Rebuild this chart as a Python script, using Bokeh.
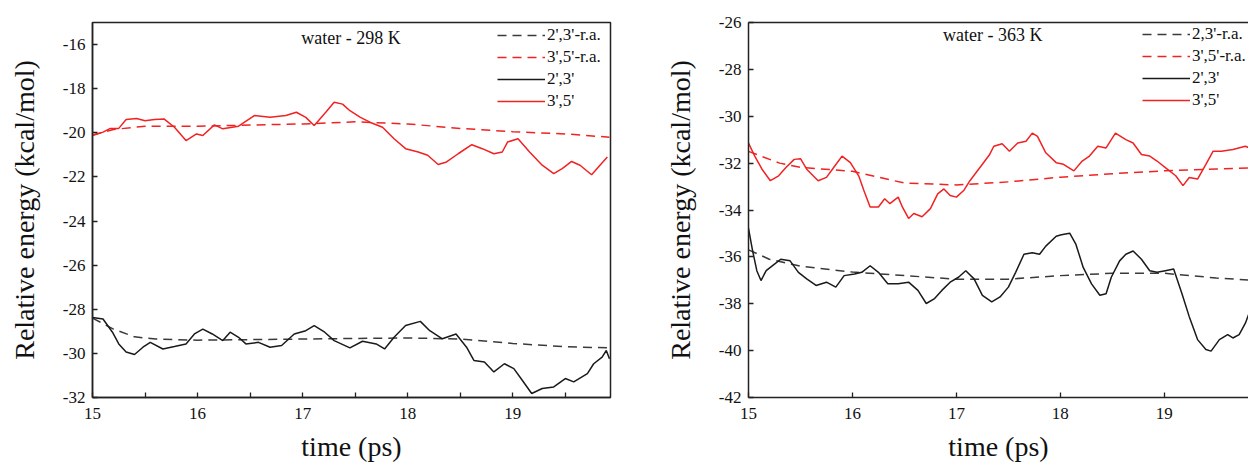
from bokeh.plotting import figure
from bokeh.models import FixedTicker, Label, Legend, LegendItem, LinearAxis, Range1d
from bokeh.layouts import row
from bokeh.embed import file_html
from bokeh.resources import INLINE

# ---------------- data: water 298 K ----------------
t298_35 = [15.0, 15.1, 15.17, 15.25, 15.32, 15.42, 15.5, 15.59, 15.68, 15.78, 15.89, 15.99, 16.05,
           16.16, 16.24, 16.39, 16.54, 16.69, 16.84, 16.94, 17.03, 17.11, 17.15, 17.22, 17.3, 17.38,
           17.45, 17.55, 17.64, 17.76, 17.87, 17.98, 18.1, 18.19, 18.29, 18.37, 18.48, 18.61, 18.71,
           18.82, 18.9, 18.95, 19.05, 19.16, 19.28, 19.39, 19.47, 19.56, 19.64, 19.75, 19.83, 19.9]
e298_35 = [-20.12, -19.97, -19.8, -19.8, -19.4, -19.35, -19.45, -19.4, -19.37, -19.75, -20.35, -20.05,
           -20.12, -19.64, -19.82, -19.7, -19.22, -19.3, -19.22, -19.07, -19.3, -19.67, -19.45, -19.07,
           -18.62, -18.7, -19.0, -19.3, -19.52, -19.75, -20.27, -20.72, -20.87, -21.02, -21.44, -21.32,
           -20.95, -20.54, -20.72, -20.95, -20.87, -20.42, -20.27, -20.87, -21.47, -21.85, -21.62,
           -21.3, -21.47, -21.9, -21.47, -21.1]
t298_35ra = [15.0, 15.2, 15.5, 16.0, 16.5, 17.0, 17.5, 18.0, 18.5, 19.0, 19.5, 19.92]
e298_35ra = [-20.1, -19.85, -19.7, -19.7, -19.65, -19.6, -19.5, -19.6, -19.8, -19.95, -20.05, -20.2]

t298_23 = [15.0, 15.1, 15.19, 15.25, 15.32, 15.4, 15.48, 15.55, 15.67, 15.78, 15.89, 15.97, 16.05,
           16.14, 16.24, 16.31, 16.39, 16.46, 16.58, 16.69, 16.8, 16.92, 17.03, 17.11, 17.21, 17.3,
           17.45, 17.57, 17.7, 17.78, 17.87, 17.98, 18.12, 18.21, 18.33, 18.46, 18.56, 18.63, 18.73,
           18.82, 18.92, 19.01, 19.09, 19.18, 19.28, 19.39, 19.5, 19.58, 19.71, 19.77, 19.85, 19.89, 19.92]
e298_23 = [-28.37, -28.44, -29.04, -29.57, -29.94, -30.05, -29.72, -29.5, -29.8, -29.69, -29.57, -29.12,
           -28.9, -29.12, -29.42, -29.04, -29.27, -29.57, -29.5, -29.72, -29.64, -29.12, -28.97, -28.74,
           -29.04, -29.42, -29.75, -29.45, -29.57, -29.8, -29.27, -28.74, -28.55, -28.97, -29.34, -29.12,
           -29.72, -30.32, -30.39, -30.84, -30.47, -30.69, -31.22, -31.82, -31.59, -31.52, -31.14,
           -31.29, -30.92, -30.47, -30.17, -29.87, -30.24]
t298_23ra = [15.0, 15.2, 15.4, 15.6, 16.0, 17.0, 18.0, 18.5, 19.0, 19.5, 19.92]
e298_23ra = [-28.4, -28.9, -29.25, -29.35, -29.4, -29.35, -29.3, -29.35, -29.55, -29.7, -29.75]

# ---------------- data: water 363 K ----------------
t363_35 = [15.0, 15.06, 15.13, 15.21, 15.29, 15.36, 15.44, 15.5, 15.56, 15.67, 15.75, 15.83, 15.9,
           15.98, 16.06, 16.11, 16.17, 16.25, 16.31, 16.36, 16.44, 16.48, 16.54, 16.59, 16.67, 16.75,
           16.82, 16.88, 16.94, 17.0, 17.07, 17.13, 17.19, 17.25, 17.32, 17.36, 17.44, 17.51, 17.59,
           17.67, 17.73, 17.78, 17.86, 17.96, 18.03, 18.13, 18.21, 18.28, 18.36, 18.44, 18.53, 18.63,
           18.7, 18.78, 18.86, 18.93, 19.01, 19.11, 19.18, 19.24, 19.32, 19.4, 19.47, 19.55, 19.66,
           19.78, 19.85]
e363_35 = [-31.14, -31.7, -32.26, -32.75, -32.54, -32.19, -31.84, -31.81, -32.26, -32.75, -32.61,
           -32.12, -31.7, -31.98, -32.54, -33.17, -33.87, -33.87, -33.52, -33.73, -33.45, -33.87,
           -34.36, -34.15, -34.29, -33.94, -33.31, -33.1, -33.38, -33.45, -33.17, -32.75, -32.4,
           -32.05, -31.63, -31.28, -31.17, -31.49, -31.14, -31.07, -30.72, -30.86, -31.56, -31.98,
           -32.05, -32.33, -31.91, -31.7, -31.28, -31.35, -30.72, -31.0, -31.14, -31.63, -31.7,
           -31.91, -32.19, -32.54, -32.96, -32.61, -32.68, -32.05, -31.49, -31.49, -31.42, -31.28,
           -31.42]
t363_35ra = [15.0, 15.3, 15.5, 16.0, 16.5, 17.0, 17.5, 18.0, 18.5, 19.0, 19.5, 19.85]
e363_35ra = [-31.5, -32.0, -32.18, -32.35, -32.85, -32.93, -32.8, -32.6, -32.45, -32.33, -32.25, -32.2]

t363_23 = [15.0, 15.04, 15.08, 15.12, 15.17, 15.25, 15.31, 15.4, 15.48, 15.56, 15.65, 15.75, 15.84,
           15.92, 16.02, 16.09, 16.17, 16.25, 16.34, 16.44, 16.54, 16.63, 16.71, 16.79, 16.86, 16.94,
           17.02, 17.09, 17.17, 17.25, 17.34, 17.42, 17.5, 17.57, 17.65, 17.73, 17.8, 17.86, 17.96,
           18.01, 18.09, 18.15, 18.22, 18.3, 18.38, 18.44, 18.49, 18.57, 18.63, 18.7, 18.78, 18.86,
           18.93, 19.01, 19.09, 19.17, 19.24, 19.32, 19.4, 19.45, 19.53, 19.61, 19.66, 19.72, 19.78,
           19.85]
e363_23 = [-34.78, -35.75, -36.59, -37.01, -36.59, -36.31, -36.1, -36.17, -36.66, -36.94, -37.22,
           -37.08, -37.29, -36.8, -36.73, -36.66, -36.38, -36.66, -37.15, -37.15, -37.08, -37.43,
           -37.99, -37.78, -37.43, -37.08, -36.87, -36.59, -36.94, -37.64, -37.92, -37.71, -37.29,
           -36.66, -35.89, -35.82, -35.89, -35.54, -35.12, -35.06, -34.99, -35.47, -36.45, -37.15,
           -37.64, -37.57, -36.87, -36.17, -35.89, -35.75, -36.1, -36.59, -36.66, -36.59, -36.52,
           -37.57, -38.55, -39.53, -39.95, -40.02, -39.53, -39.32, -39.46, -39.32, -38.83, -38.0]
t363_23ra = [15.0, 15.2, 15.5, 16.0, 16.5, 17.0, 17.5, 18.0, 18.5, 19.0, 19.5, 19.85]
e363_23ra = [-35.7, -36.1, -36.4, -36.65, -36.8, -36.95, -36.95, -36.8, -36.7, -36.7, -36.9, -37.0]

# ---------------- axis ticks / labels ----------------
x_ticks = [15, 16, 17, 18, 19]
x_minor_298 = [15.5, 16.5, 17.5, 18.5, 19.5]
y_ticks_298 = [-32, -30, -28, -26, -24, -22, -20, -18, -16]
y_ticks_363 = [-42, -40, -38, -36, -34, -32, -30, -28, -26]
legend_298 = ["2',3'-r.a.", "3',5'-r.a.", "2',3'", "3',5'"]
legend_363 = ["2,3'-r.a.", "3',5'-r.a.", "2',3'", "3',5'"]
title_298 = "water - 298 K"
title_363 = "water - 363 K"

FONT = "Liberation Serif"
RED = "#f02222"
BLACK = "#1a1a1a"
DBLACK = "#3a3a3a"


def style_axis(ax):
    ax.axis_line_width = 1.5
    ax.axis_line_color = "#222222"
    ax.major_tick_in = 5
    ax.major_tick_out = 0
    ax.minor_tick_in = 5
    ax.minor_tick_out = 0
    ax.major_tick_line_color = "#222222"
    ax.minor_tick_line_color = "#222222"
    ax.major_tick_line_width = 1.3
    ax.minor_tick_line_width = 1.3
    ax.major_label_text_font = FONT
    ax.major_label_text_font_size = "17px"
    ax.major_label_text_color = "#111111"
    ax.axis_label_text_font = FONT
    ax.axis_label_text_font_size = "28px"
    ax.axis_label_text_font_style = "normal"
    ax.axis_label_text_color = "#111111"


def make_panel(width, height, xr, yr, yticks, xminor, borders, data, labels, title, title_pos,
               legend_loc, outline):
    p = figure(width=width, height=height, output_backend="svg", toolbar_location=None,
               x_range=Range1d(*xr), y_range=Range1d(*yr),
               min_border_left=borders[0], min_border_right=borders[1],
               min_border_top=borders[2], min_border_bottom=borders[3],
               x_axis_label="time (ps)", y_axis_label="Relative energy (kcal/mol)")
    p.xgrid.visible = False
    p.ygrid.visible = False
    p.background_fill_color = "white"
    p.border_fill_color = "white"

    xax = p.below[0]
    yax = p.left[0]
    xax.ticker = FixedTicker(ticks=x_ticks, minor_ticks=xminor)
    yax.ticker = FixedTicker(ticks=yticks, minor_ticks=[])
    xax.major_label_overrides = {v: str(v) for v in x_ticks}
    yax.major_label_overrides = {v: str(v) for v in yticks}
    for ax in [xax, yax]:
        style_axis(ax)
    xax.major_label_standoff = 10
    xax.axis_label_standoff = 9
    yax.major_label_standoff = 7
    yax.axis_label_standoff = 20

    if outline:
        p.outline_line_color = "#222222"
        p.outline_line_width = 1.5
    else:
        p.outline_line_color = None
        top = LinearAxis(ticker=FixedTicker(ticks=[]), major_label_text_font_size="0px",
                         major_label_standoff=0, axis_line_width=1.5, axis_line_color="#222222",
                         major_tick_line_color=None, minor_tick_line_color=None)
        p.add_layout(top, "above")

    (t23ra, e23ra), (t35ra, e35ra), (t23, e23), (t35, e35) = data
    r1 = p.line(t23ra, e23ra, line_color=DBLACK, line_width=1.5, line_dash="9 6")
    r2 = p.line(t35ra, e35ra, line_color=RED, line_width=1.5, line_dash="9 6")
    r3 = p.line(t23, e23, line_color=BLACK, line_width=1.5)
    r4 = p.line(t35, e35, line_color=RED, line_width=1.5)

    items = [LegendItem(label=lab, renderers=[r]) for lab, r in zip(labels, [r1, r2, r3, r4])]
    leg = Legend(items=items, location=legend_loc, padding=0, spacing=0, margin=0,
                 glyph_width=48, glyph_height=22, label_height=22, label_standoff=2,
                 label_text_font=FONT, label_text_font_size="17px", label_text_color="#111111",
                 border_line_color=None, background_fill_alpha=0)
    p.add_layout(leg, "center")

    p.add_layout(Label(x=title_pos[0], y=title_pos[1], text=title, text_align="center",
                       text_baseline="middle", text_font=FONT, text_font_size="18px",
                       text_color="#111111"))
    return p


p1 = make_panel(648, 471, (15, 19.93), (-32, -15), y_ticks_298, x_minor_298, (92, 38, 20, 74),
                [(t298_23ra, e298_23ra), (t298_35ra, e298_35ra), (t298_23, e298_23), (t298_35, e298_35)],
                legend_298, title_298, (17.46, -15.68), (405, 285), True)
p2 = make_panel(600, 471, (15, 19.81), (-42, -26), y_ticks_363, [], (100, 0, 22, 71),
                [(t363_23ra, e363_23ra), (t363_35ra, e363_35ra), (t363_23, e363_23), (t363_35, e363_35)],
                legend_363, title_363, (17.35, -26.55), (394, 286), False)

layout = row(p1, p2)
open("out.html", "w").write(file_html(layout, INLINE))
